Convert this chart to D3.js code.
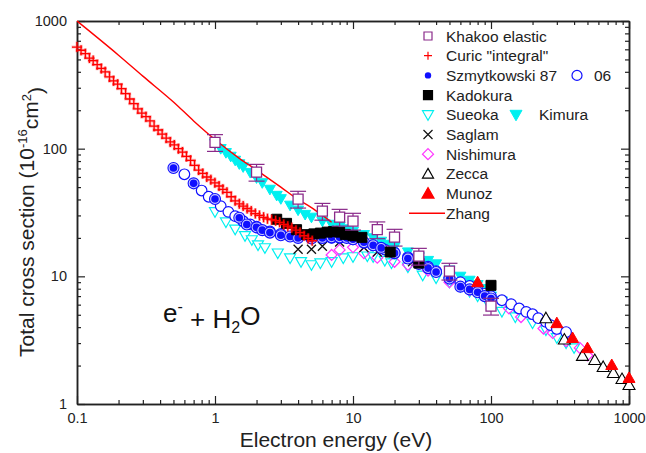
<!DOCTYPE html>
<html><head><meta charset="utf-8">
<script src="https://cdn.jsdelivr.net/npm/d3@7/dist/d3.min.js"></script>
<style>
body{margin:0;background:#fff;}
svg{display:block;font-family:"Liberation Sans",Arial,sans-serif;}
</style></head>
<body>
<svg id="chart" width="646" height="453"></svg>
<script>
// ---------- data: [energy eV, cross section 1e-16 cm^2] ----------
const zhang = [[0.1,1000],[0.2,540],[0.3,370],[0.5,232],[0.7,165],[1,118],[1.5,84],[2,68],[3,50],[4,40],[5,34.5],[6,30],[7,26.5]];
const khakoo = [[1,112],[2,65.5],[4,40.3],[6,32.4],[8,29.1],[10,27.1],[15,23.2],[20,20.3],[30,14.4],[50,11],[100,5.85]];
const curic = [[0.1,625],[0.107,590],[0.115,555],[0.123,512],[0.131,490],[0.14,455],[0.15,425],[0.16,400],[0.172,365],[0.184,340],[0.197,320],[0.21,295],[0.225,270],[0.241,245],[0.258,225],[0.276,205],[0.295,190],[0.316,178],[0.338,165],[0.362,150],[0.387,140],[0.414,130],[0.443,121],[0.474,113],[0.507,107],[0.543,100],[0.581,94],[0.621,87],[0.665,81],[0.711,74],[0.761,68],[0.815,64],[0.872,60],[0.933,57],[0.998,54],[1.07,51],[1.14,48],[1.22,45.5],[1.31,42],[1.4,39],[1.5,37],[1.6,35.5],[1.71,34],[1.83,32.5],[1.96,31],[2.1,30],[2.25,29],[2.4,28.2],[2.57,27.8],[2.75,27.3],[2.94,26.5],[3.15,25.5],[3.37,24.7],[3.6,24],[3.86,23],[4.13,22],[4.42,20.8],[4.73,19.8],[5.06,19]];
const szmyt87 = [[0.5,70.5],[0.7,53.5],[1,40.3],[1.5,28.8],[1.7,25.5],[2,24.2],[2.2,23],[2.5,22],[3,21],[3.5,20.5],[4,20],[5,19.8],[6,20],[7,20.2],[8,20.2],[9,20],[10,19.5],[12,18.5],[14,17.5],[16,16.7],[20,15.2],[25,13.8],[30,12.5],[35,11.6],[40,10.8],[50,9.6],[60,8.3],[70,7.9],[80,7.5],[90,7.0],[100,6.7]];
const szmyt06 = [[0.6,63],[0.8,47],[0.9,42],[1.1,35.5],[1.25,32],[1.4,29.6],[1.6,27],[1.8,25.5],[2,24.5],[2.5,22.5],[3,21.5],[4,20.5],[5,20],[6,20],[7,20],[8,20],[10,19.5],[12,18.3],[14,17.5],[17,16.2],[20,15.3],[25,14.1],[30,13],[35,11.9],[40,11],[50,9.8],[60,9],[70,8.4],[80,7.8],[90,7.3],[100,7],[120,6.5],[140,6.05],[160,5.6],[180,5.27],[200,5.05],[220,4.7],[250,4.4],[270,4.15],[300,3.87],[350,3.66]];
const kadokura = [[2.8,28],[3.3,26],[3.9,23.2],[4.6,21.2],[5.2,21.5],[5.8,21.8],[6.5,22.2],[7.2,22.4],[8,22.2],[8.8,21.3],[10,20.8],[11.6,20.2],[18.6,15.5],[30,12.7],[100,8.5]];
const sueoka = [[1,32],[1.2,26.6],[1.4,23.4],[1.65,20.8],[1.85,19.3],[2.05,17.6],[2.3,16.7],[2.85,15.2],[3.5,13.9],[4.2,13],[5,12.3],[5.8,12.7],[7,13],[8.5,13.9],[10,14.2],[12.7,14.4],[14,14.2],[17,13.3],[19,12.7],[25,11.8],[32,10.2],[40,9.7],[50,9],[60,8.3],[70,7.6],[80,7],[95,6.2],[120,5.3],[150,4.8],[200,4.3],[250,3.8],[300,3.3],[350,3.0],[400,2.75]];
const kimura = [[1,110],[1.1,100],[1.2,93],[1.3,87],[1.4,81],[1.5,76],[1.6,72],[1.8,65],[2,59],[2.2,54],[2.5,48],[2.8,43],[3,40.5],[3.5,36],[4,33],[4.5,30.5],[5,29],[6,27],[7,25.5],[8,24.5],[9,23.5],[10,22.5],[12,21.2],[14,20],[16,18.8],[18,17.8],[20,17],[25,15.5],[30,14.2],[35,13.3],[40,12.5],[50,11.2],[60,10],[70,9.3],[80,8.6],[90,8],[100,7.0],[120,6.4],[150,5.6],[200,4.8],[250,4.2],[300,3.7],[350,3.3]];
const saglam = [[4,16.3],[5,16.3],[6,17.2],[8,18.6],[12,16.8],[15,15.5],[27,13]];
const nishimura = [[7,14.7],[8,16.1],[10,16.9],[12,15.2],[15,14],[20,13],[25,12.3],[35,11.1],[50,9],[70,7.8],[100,6.6],[135,5.6],[165,4.8],[240,3.9],[280,3.6],[350,3.1],[440,2.75],[500,2.4]];
const zecca = [[250,4.7],[340,3.2],[460,2.38],[565,2.21],[650,1.95],[770,1.75],[890,1.57],[1000,1.41]];
const munoz = [[80,9],[300,4.3],[390,3.29],[500,2.74],[750,2.02],[1000,1.6]];
const khakooErr = 0.15; // relative error bar

const xTicks = [0.1,1,10,100,1000];
const xTickLabels = ["0.1","1","10","100","1000"];
const yTicks = [1,10,100,1000];
const yTickLabels = ["1","10","100","1000"];

// ---------- layout ----------
const svg = d3.select("#chart");
const L = 77, R = 629, T = 21, B = 404;
const x = d3.scaleLog().domain([0.1,1000]).range([L,R]);
const y = d3.scaleLog().domain([1,1000]).range([B,T]);

const minorX = [], minorY = [];
[0.1,1,10,100].forEach(d => { for (let k=2;k<10;k++) minorX.push(d*k); });
[1,10,100].forEach(d => { for (let k=2;k<10;k++) minorY.push(d*k); });

function shape(type, s){
  const h = s/2;
  switch(type){
    case "square": return `M${-h},${-h}H${h}V${h}H${-h}Z`;
    case "plus": return `M${-h},0H${h}M0,${-h}V${h}`;
    case "x": return `M${-h},${-h}L${h},${h}M${-h},${h}L${h},${-h}`;
    case "triDown": return `M${-h},${-h*0.75}L${h},${-h*0.75}L0,${h}Z`;
    case "triUp": return `M0,${-h}L${h},${h*0.75}L${-h},${h*0.75}Z`;
    case "diamond": return `M0,${-h}L${h},0L0,${h}L${-h},0Z`;
  }
}

// axes (ticks inward on all four sides)
const axisColor = "#222";
function styleAxis(g){
  g.selectAll("path.domain").attr("stroke",axisColor).attr("stroke-width",1.5);
  g.selectAll(".tick line").attr("stroke",axisColor).attr("stroke-width",1.2);
  g.selectAll("text").attr("fill","#222").style("font-size","14.5px").style("font-family","'Liberation Sans',Arial,sans-serif");
}
// bottom
svg.append("g").attr("transform",`translate(0,${B})`)
  .call(d3.axisBottom(x).tickValues(minorX).tickSize(-4).tickFormat("").tickSizeOuter(0)).call(styleAxis);
svg.append("g").attr("transform",`translate(0,${B})`)
  .call(d3.axisBottom(x).tickValues(xTicks).tickSize(-8).tickPadding(9).tickSizeOuter(0)
    .tickFormat((d,i)=>xTickLabels[i])).call(styleAxis);
// top
svg.append("g").attr("transform",`translate(0,${T})`)
  .call(d3.axisTop(x).tickValues(minorX).tickSize(-4).tickFormat("").tickSizeOuter(0)).call(styleAxis);
svg.append("g").attr("transform",`translate(0,${T})`)
  .call(d3.axisTop(x).tickValues(xTicks).tickSize(-8).tickFormat("").tickSizeOuter(0)).call(styleAxis);
// left
svg.append("g").attr("transform",`translate(${L},0)`)
  .call(d3.axisLeft(y).tickValues(minorY).tickSize(-4).tickFormat("").tickSizeOuter(0)).call(styleAxis);
svg.append("g").attr("transform",`translate(${L},0)`)
  .call(d3.axisLeft(y).tickValues(yTicks).tickSize(-8).tickPadding(10).tickSizeOuter(0)
    .tickFormat((d,i)=>yTickLabels[i])).call(styleAxis);
// right
svg.append("g").attr("transform",`translate(${R},0)`)
  .call(d3.axisRight(y).tickValues(minorY).tickSize(-4).tickFormat("").tickSizeOuter(0)).call(styleAxis);
svg.append("g").attr("transform",`translate(${R},0)`)
  .call(d3.axisRight(y).tickValues(yTicks).tickSize(-8).tickFormat("").tickSizeOuter(0)).call(styleAxis);

// ---------- marks ----------
const plot = svg.append("g");
function markers(data, type, size, stroke, fill, sw, opacity){
  plot.append("g").selectAll("path").data(data).join("path")
    .attr("transform", d => `translate(${x(d[0])},${y(d[1])})`)
    .attr("d", shape(type,size))
    .attr("stroke", stroke).attr("fill", fill)
    .attr("stroke-width", sw).attr("opacity", opacity==null?1:opacity);
}
const BLUE = "#1010ff", CYAN = "#00f0f0", PURPLE = "#8a2a8a", MAG = "#ff33ff", RED = "#ff0000";

markers(kimura, "triDown", 11, CYAN, CYAN, 1);
markers(sueoka, "triDown", 11, CYAN, "#fff", 1.2);
markers(nishimura, "diamond", 11, MAG, "none", 1.2);
markers(saglam, "x", 9, "#111", "none", 1.3);
// Szmytkowski 06 open circles
plot.append("g").selectAll("circle").data(szmyt06).join("circle")
  .attr("cx", d => x(d[0])).attr("cy", d => y(d[1])).attr("r", 5.3)
  .attr("fill","#fff").attr("stroke",BLUE).attr("stroke-width",1.2);
// Szmytkowski 87 filled circles with ring
const s87 = plot.append("g").selectAll("g").data(szmyt87).join("g")
  .attr("transform", d => `translate(${x(d[0])},${y(d[1])})`);
s87.append("circle").attr("r",5.5).attr("fill","#c8c8ff").attr("stroke",BLUE).attr("stroke-width",1.1);
s87.append("circle").attr("r",3.8).attr("fill",BLUE);
markers(kadokura, "square", 10, "#000", "#000", 1);
markers(curic, "plus", 11, RED, "none", 3, 0.25);
markers(curic, "plus", 10, RED, "none", 1.3);
markers(zecca, "triUp", 12, "#000", "#fff", 1.1);
markers(munoz, "triUp", 12, RED, RED, 1);

// Zhang line
plot.append("path").datum(zhang)
  .attr("d", d3.line().x(d=>x(d[0])).y(d=>y(d[1])).curve(d3.curveMonotoneX))
  .attr("fill","none").attr("stroke",RED).attr("stroke-width",1.4);

// Khakoo with error bars
const kg = plot.append("g").selectAll("g").data(khakoo).join("g");
kg.append("line")
  .attr("x1", d=>x(d[0])).attr("x2", d=>x(d[0]))
  .attr("y1", d=>y(d[1]*(1+khakooErr))).attr("y2", d=>y(d[1]*(1-khakooErr)))
  .attr("stroke",PURPLE).attr("stroke-width",1.2);
kg.append("line")
  .attr("x1", d=>x(d[0])-8).attr("x2", d=>x(d[0])+8)
  .attr("y1", d=>y(d[1]*(1+khakooErr))).attr("y2", d=>y(d[1]*(1+khakooErr)))
  .attr("stroke",PURPLE).attr("stroke-width",1.2);
kg.append("line")
  .attr("x1", d=>x(d[0])-8).attr("x2", d=>x(d[0])+8)
  .attr("y1", d=>y(d[1]*(1-khakooErr))).attr("y2", d=>y(d[1]*(1-khakooErr)))
  .attr("stroke",PURPLE).attr("stroke-width",1.2);
kg.append("path")
  .attr("transform", d => `translate(${x(d[0])},${y(d[1])})`)
  .attr("d", shape("square",10)).attr("fill","#fff").attr("stroke",PURPLE).attr("stroke-width",1.3);

// ---------- legend ----------
const legend = [
  {label:"Khakoo elastic", type:"square", stroke:PURPLE, fill:"#fff", size:8},
  {label:"Curic \"integral\"", type:"plus", stroke:RED, fill:"none", size:8},
  {label:"Szmytkowski 87", type:"dot", stroke:BLUE, fill:BLUE, size:6},
  {label:"Kadokura", type:"square", stroke:"#000", fill:"#000", size:9},
  {label:"Sueoka", type:"triDown", stroke:CYAN, fill:"#fff", size:11},
  {label:"Saglam", type:"x", stroke:"#111", fill:"none", size:9},
  {label:"Nishimura", type:"diamond", stroke:MAG, fill:"none", size:11},
  {label:"Zecca", type:"triUp", stroke:"#000", fill:"#fff", size:11},
  {label:"Munoz", type:"triUp", stroke:RED, fill:RED, size:12},
  {label:"Zhang", type:"line", stroke:RED}
];
const lg = svg.append("g").style("font-size","15.5px").attr("fill","#222");
legend.forEach((e,i) => {
  const yy = 36 + i*19.7;
  if (e.type === "dot") {
    lg.append("circle").attr("cx",428).attr("cy",yy).attr("r",3.2).attr("fill",BLUE);
  } else if (e.type === "line") {
    lg.append("line").attr("x1",409).attr("x2",445).attr("y1",yy).attr("y2",yy).attr("stroke",RED).attr("stroke-width",1.4);
  } else {
    lg.append("path").attr("transform",`translate(428,${yy})`).attr("d",shape(e.type,e.size))
      .attr("stroke",e.stroke).attr("fill",e.fill).attr("stroke-width",1.2);
  }
  lg.append("text").attr("x",446).attr("y",yy).attr("dy","0.36em").text(e.label);
});
// extra legend items on same rows
lg.append("circle").attr("cx",577).attr("cy",75.4).attr("r",5).attr("fill","#fff").attr("stroke",BLUE).attr("stroke-width",1.2);
lg.append("text").attr("x",594).attr("y",75.4).attr("dy","0.36em").text("06");
lg.append("path").attr("transform",`translate(516,${36+4*19.7})`).attr("d",shape("triDown",12)).attr("fill",CYAN).attr("stroke",CYAN);
lg.append("text").attr("x",539).attr("y",36+4*19.7).attr("dy","0.36em").text("Kimura");

// ---------- titles ----------
svg.append("text").attr("x",336).attr("y",447).attr("text-anchor","middle")
  .style("font-size","21px").attr("fill","#222").text("Electron energy (eV)");
const yt = svg.append("text").attr("transform","translate(34,222) rotate(-90)").attr("text-anchor","middle")
  .style("font-size","21px").attr("fill","#222");
yt.append("tspan").text("Total cross section (10");
yt.append("tspan").attr("dy","-0.55em").style("font-size","13px").text("-16");
yt.append("tspan").attr("dy","0.55em").text("cm");
yt.append("tspan").attr("dy","-0.55em").style("font-size","13px").text("2");
yt.append("tspan").attr("dy","0.55em").text(")");

const ann = svg.append("text").attr("x",163).attr("y",322).style("font-size","26px").attr("fill","#111");
ann.append("tspan").text("e");
ann.append("tspan").attr("dy","-0.6em").style("font-size","16px").text("-");
ann.append("tspan").attr("dy","0.6em").text(" + H");
ann.append("tspan").attr("dy","0.3em").style("font-size","16px").text("2");
ann.append("tspan").attr("dy","-0.3em").text("O");
</script>
</body></html>
